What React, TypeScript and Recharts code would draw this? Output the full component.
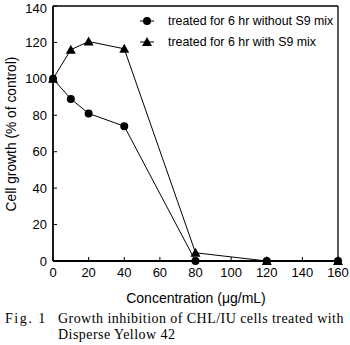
import React from "react";
import {
  LineChart,
  Line,
  XAxis,
  YAxis,
  Legend,
  ReferenceLine,
} from "recharts";

const concentrations = [0, 10, 20, 40, 80, 120, 160];
const withoutS9 = [100, 89, 81, 74, 0, 0, 0];
const withS9 = [100, 116, 120.5, 116.5, 4.5, 0, 0];
const xTicks = [0, 20, 40, 60, 80, 100, 120, 140, 160];
const yTicks = [0, 20, 40, 60, 80, 100, 120, 140];

const data = concentrations.map((c, i) => ({
  conc: c,
  without: withoutS9[i],
  with: withS9[i],
}));

const sans = "'Liberation Sans', Arial, sans-serif";
const serif = "'Liberation Serif', 'Times New Roman', serif";

const CircleDot = (props: any) => {
  const { cx, cy, key } = props;
  return <circle key={key} cx={cx} cy={cy} r={4} fill="#000" />;
};

const TriangleDot = (props: any) => {
  const { cx, cy, key } = props;
  return (
    <polygon
      key={key}
      points={`${cx},${cy - 5} ${cx - 5},${cy + 4} ${cx + 5},${cy + 4}`}
      fill="#000"
    />
  );
};

const renderLegend = () => {
  const rows = [
    { label: "treated for 6 hr without S9 mix", shape: "circle" },
    { label: "treated for 6 hr with S9 mix", shape: "triangle" },
  ];
  return (
    <div style={{ fontFamily: sans, fontSize: 12.4, color: "#000" }}>
      {rows.map((r) => (
        <div key={r.label} style={{ display: "flex", alignItems: "center", height: 21 }}>
          <svg width={26} height={12} style={{ marginRight: 3 }}>
            <line x1={1} y1={6} x2={15} y2={6} stroke="#000" strokeWidth={1} />
            {r.shape === "circle" ? (
              <circle cx={8} cy={6} r={4} fill="#000" />
            ) : (
              <polygon points="8,1 3,10 13,10" fill="#000" />
            )}
          </svg>
          <span>{r.label}</span>
        </div>
      ))}
    </div>
  );
};

const captionStyle: React.CSSProperties = {
  position: "absolute",
  top: 311,
  fontFamily: serif,
  fontSize: 14,
  lineHeight: "16px",
  color: "#000",
  whiteSpace: "nowrap",
};

export default function App() {
  return (
    <div style={{ position: "absolute", left: 0, top: 0, width: 350, height: 345, background: "#fff" }}>
      <LineChart
        width={350}
        height={345}
        data={data}
        margin={{ top: 6, right: 12, left: 0, bottom: 54 }}
      >
        <XAxis
          dataKey="conc"
          type="number"
          domain={[0, 160]}
          ticks={xTicks}
          height={30}
          tickSize={-4}
          tickMargin={11}
          axisLine={{ stroke: "#000", strokeWidth: 1.8 }}
          tickLine={{ stroke: "#000" }}
          tick={{ fill: "#000", fontSize: 13, fontFamily: sans }}
        />
        <YAxis
          type="number"
          domain={[0, 140]}
          ticks={yTicks}
          width={53}
          tickSize={-4}
          tickMargin={10}
          axisLine={{ stroke: "#000", strokeWidth: 1.8 }}
          tickLine={{ stroke: "#000" }}
          tick={{ fill: "#000", fontSize: 13, fontFamily: sans }}
        />
        <ReferenceLine y={140} stroke="#000" strokeWidth={1.3} />
        <ReferenceLine x={160} stroke="#000" strokeWidth={1.3} />
        <Legend
          layout="vertical"
          align="center"
          verticalAlign="middle"
          content={renderLegend}
          wrapperStyle={{ top: 10, left: 139, width: 210 }}
        />
        <Line
          type="linear"
          dataKey="without"
          name="treated for 6 hr without S9 mix"
          stroke="#000"
          strokeWidth={1}
          dot={CircleDot}
          activeDot={false}
          isAnimationActive={false}
        />
        <Line
          type="linear"
          dataKey="with"
          name="treated for 6 hr with S9 mix"
          stroke="#000"
          strokeWidth={1}
          dot={TriangleDot}
          activeDot={false}
          isAnimationActive={false}
        />
      </LineChart>
      <div
        style={{
          position: "absolute",
          left: 12,
          top: 134,
          transform: "translate(-50%, -50%) rotate(-90deg)",
          whiteSpace: "nowrap",
          fontFamily: sans,
          fontSize: 13.8,
          lineHeight: "16px",
          color: "#000",
        }}
      >
        Cell growth (% of control)
      </div>
      <div
        style={{
          position: "absolute",
          left: 196,
          top: 298,
          transform: "translate(-50%, -50%)",
          whiteSpace: "nowrap",
          fontFamily: sans,
          fontSize: 14,
          lineHeight: "16px",
          color: "#000",
        }}
      >
        Concentration (μg/mL)
      </div>
      <div style={{ ...captionStyle, left: 5, letterSpacing: 1.5 }}>Fig. 1</div>
      <div style={{ ...captionStyle, left: 58, letterSpacing: 0.45 }}>
        Growth inhibition of CHL/IU cells treated with
        <br />
        Disperse Yellow 42
      </div>
    </div>
  );
}
